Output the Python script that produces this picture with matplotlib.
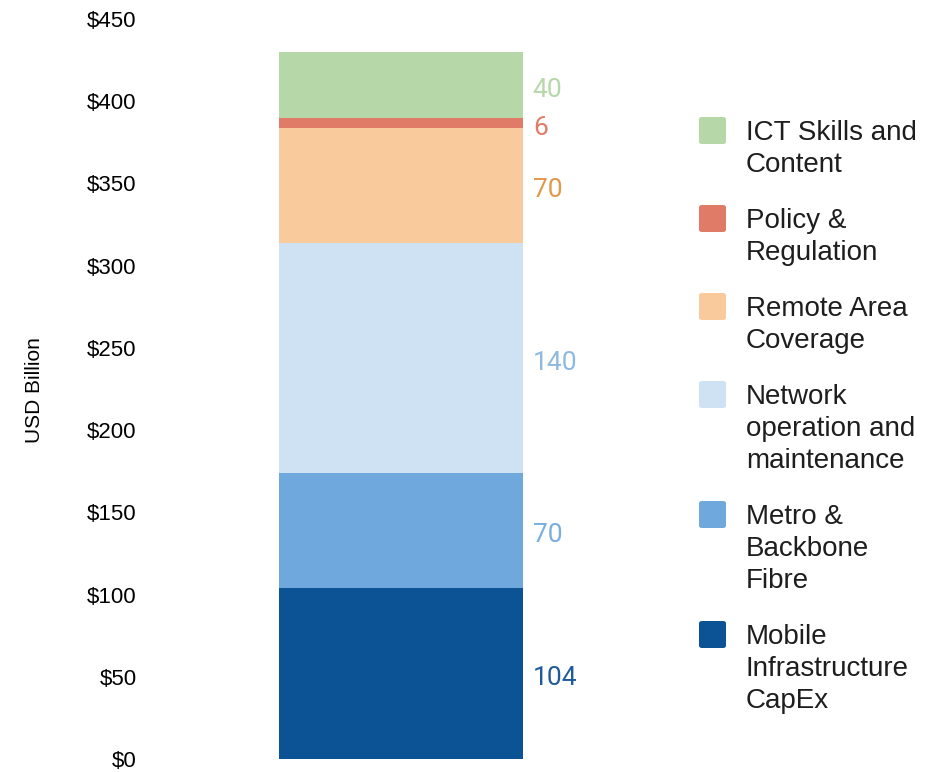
import matplotlib.pyplot as plt
from matplotlib.patches import FancyBboxPatch
import matplotlib.transforms as mtransforms

plt.rcParams['font.family'] = ['Liberation Sans', 'DejaVu Sans']

# stacked segments, bottom to top
categories = ['Mobile\nInfrastructure\nCapEx', 'Metro &\nBackbone\nFibre',
              'Network\noperation and\nmaintenance', 'Remote Area\nCoverage',
              'Policy &\nRegulation', 'ICT Skills and\nContent']
values = [104, 70, 140, 70, 6, 40]
bar_colors = ['#0b5394', '#6fa8dc', '#cfe2f3', '#f9cb9c', '#e07b67', '#b6d7a8']
label_colors = ['#1f5b9a', '#7aaedd', '#8fb9e0', '#e0994a', '#e07b67', '#b6d7a8']
yticks = [0, 50, 100, 150, 200, 250, 300, 350, 400, 450]

W, H = 941, 772
fig = plt.figure(figsize=(W / 100, H / 100), dpi=100)
ax = fig.add_axes([145 / W, (H - 759) / H, (660 - 145) / W, (759 - 19) / H])

shift = mtransforms.ScaledTranslation(0, -5 / 100, fig.dpi_scale_trans)
bottom = 0
for v, c, lc in zip(values, bar_colors, label_colors):
    ax.bar(0, v, bottom=bottom, width=1, color=c, edgecolor='none')
    ax.text(0.54, bottom + v / 2, str(v), color=lc, fontsize=19,
            family=['Roboto', 'DejaVu Sans'], va='center', ha='left',
            transform=ax.transData + shift)
    bottom += v

ax.set_xlim(-0.5 - 134 / 244, 0.5 + 137 / 244)
ax.set_ylim(0, 450)
ax.set_yticks(yticks)
ax.set_yticklabels(['$%d' % t for t in yticks], fontsize=16)
ax.tick_params(axis='y', length=0, pad=6)
ax.set_xticks([])
for s in ax.spines.values():
    s.set_visible(False)
fig.text(35 / W, (H - 390) / H, 'USD Billion', rotation=90, fontsize=15,
         ha='center', va='center')

# legend drawn by hand: square next to first line of each label
y = 131
for name, c in zip(categories[::-1], bar_colors[::-1]):
    nlines = name.count('\n') + 1
    fig.patches.append(FancyBboxPatch((699 / W, (H - y - 13) / H), 27 / W, 27 / H,
                                      boxstyle='round,pad=0,rounding_size=0.003',
                                      transform=fig.transFigure, facecolor=c,
                                      edgecolor='none'))
    fig.text(746 / W, (H - y + 11) / H, name, fontsize=20, color='#1e1e1e',
             ha='left', va='top', linespacing=1.3)
    y += nlines * 32 + 24

fig.savefig('out.png', dpi=100)
